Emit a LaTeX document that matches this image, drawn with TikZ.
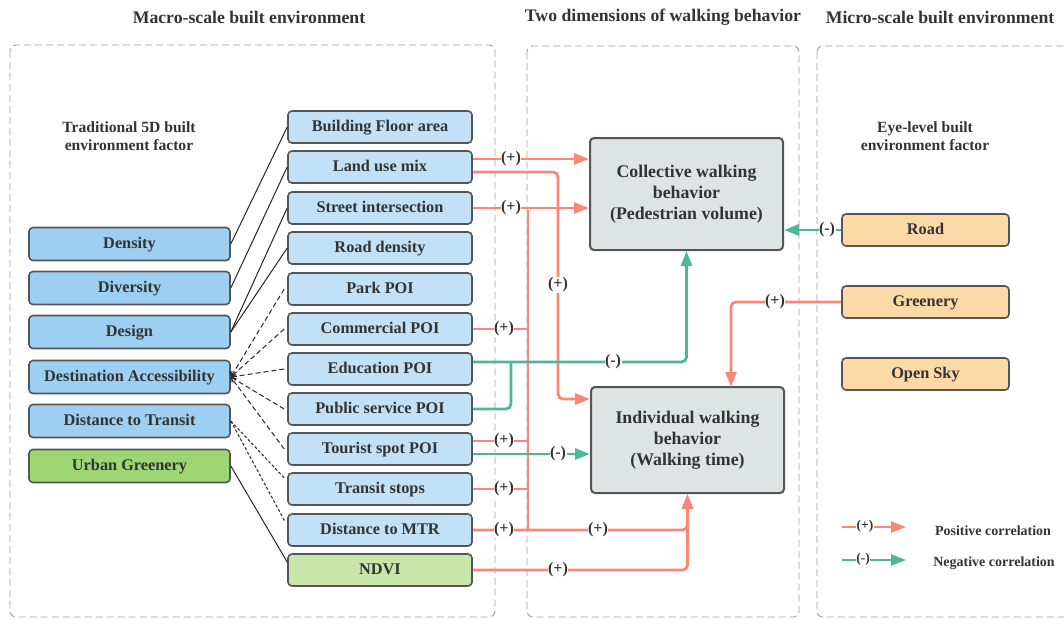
\documentclass[tikz,border=0pt]{standalone}
\usepackage{fontspec}
\setmainfont{Liberation Serif}
\usetikzlibrary{arrows.meta,calc}
\definecolor{txt}{HTML}{333333}
\definecolor{bord}{HTML}{555555}
\definecolor{fivedblue}{HTML}{9CCFF1}
\definecolor{midblue}{HTML}{C2E1F6}
\definecolor{ugreen}{HTML}{9FD674}
\definecolor{ndvigreen}{HTML}{C8E6AA}
\definecolor{orangebox}{HTML}{FCD9A6}
\definecolor{greybox}{HTML}{DEE3E4}
\definecolor{salmon}{HTML}{FA8778}
\definecolor{tealc}{HTML}{4DB69B}
\definecolor{panel}{HTML}{A0A0A0}
\tikzset{
  basebox/.style={draw=bord, line width=1.6pt, rounded corners=4pt, text=txt,
    font=\fontsize{16.3}{19}\selectfont\bfseries, inner sep=0pt, align=center},
  onebox/.style={basebox, text height=11pt, text depth=1.5pt},
  fivedbox/.style={onebox, fill=fivedblue, minimum width=201pt, minimum height=33pt},
  midbox/.style={onebox, fill=midblue, minimum width=184pt, minimum height=32pt},
  orbox/.style={onebox, fill=orangebox, minimum width=167pt, minimum height=32pt},
  behbox/.style={basebox, fill=greybox, line width=2pt, minimum width=193pt,
    font=\fontsize{17.8}{21}\selectfont\bfseries},
  panelbox/.style={draw=panel, line width=0.9pt, dash pattern=on 7pt off 4pt, rounded corners=6pt},
  titletxt/.style={text=txt, font=\fontsize{17.7}{21}\selectfont\bfseries, inner sep=0pt},
  subtxt/.style={text=txt, font=\fontsize{15.6}{18.5}\selectfont\bfseries, align=center, inner sep=0pt},
  lab/.style={fill=white, text=txt, font=\fontsize{16}{17}\selectfont\bfseries, inner sep=0.5pt},
  posline/.style={draw=salmon, line width=2.8pt, rounded corners=5pt},
  negline/.style={draw=tealc, line width=2.8pt, rounded corners=5pt},
  posarr/.style={posline, -{Triangle[length=15pt,width=11pt]}},
  negarr/.style={negline, -{Triangle[length=15pt,width=11pt]}},
  link/.style={draw=black!85, line width=1pt},
  dlink/.style={link, dash pattern=on 5pt off 3pt},
  ddlink/.style={link, dash pattern=on 3pt off 2pt},
  legtxt/.style={text=txt, font=\fontsize{14}{16}\selectfont\bfseries, inner sep=0pt},
}
\begin{document}
\begin{tikzpicture}[x=1pt,y=-1pt]
\useasboundingbox (0,0) rectangle (1064,619);

% panels
\draw[panelbox] (10,45) rectangle (495,617);
\draw[panelbox] (527,46) rectangle (799,617);
\draw[panelbox] (817,46) rectangle (1080,617);

% titles
\node[titletxt] (t1) at (249,17) {Macro-scale built environment};
\node[titletxt] (t2) at (663,17) {Two dimensions of walking behavior};
\node[titletxt] (t3) at (940,17) {Micro-scale built environment};
\node[subtxt] (s1) at (129,136) {Traditional 5D built\\environment factor};
\node[subtxt] (s2) at (925,136) {Eye-level built\\environment factor};

% 5D boxes
\node[fivedbox] (den) at (129.5,244) {Density};
\node[fivedbox] (div) at (129.5,288) {Diversity};
\node[fivedbox] (des) at (129.5,332) {Design};
\node[fivedbox] (dac) at (129.5,377) {Destination Accessibility};
\node[fivedbox] (dtt) at (129.5,421) {Distance to Transit};
\node[fivedbox, fill=ugreen] (ugr) at (129.5,466) {Urban Greenery};

% middle boxes
\node[midbox] (bfa) at (380,127) {Building Floor area};
\node[midbox] (lum) at (380,167) {Land use mix};
\node[midbox] (sti) at (380,208) {Street intersection};
\node[midbox] (rd)  at (380,248) {Road density};
\node[midbox] (park) at (380,289) {Park POI};
\node[midbox] (com) at (380,329) {Commercial POI};
\node[midbox] (edu) at (380,369) {Education POI};
\node[midbox] (ps)  at (380,409) {Public service POI};
\node[midbox] (tour) at (380,449) {Tourist spot POI};
\node[midbox] (ts)  at (380,489) {Transit stops};
\node[midbox] (mtr) at (380,530) {Distance to MTR};
\node[midbox, fill=ndvigreen] (ndvi) at (380,570) {NDVI};

% behaviour boxes
\node[behbox, minimum height=112pt] (coll) at (686.5,194) {Collective walking\\behavior\\(Pedestrian volume)};
\node[behbox, minimum height=106pt] (ind) at (687.5,440) {Individual walking\\behavior\\(Walking time)};

% eye-level boxes
\node[orbox] (road) at (925.5,230) {Road};
\node[orbox] (gre) at (925.5,302) {Greenery};
\node[orbox] (sky) at (925.5,374) {Open Sky};

% left links
\draw[link] (den.east) -- (bfa.west);
\draw[link] (div.east) -- (lum.west);
\draw[link] (des.east) -- (sti.west);
\draw[link] (des.east) -- (rd.west);
\foreach \n in {park,com,edu,ps,tour}{
  \draw[dlink, -{Straight Barb[length=4pt,width=7pt]}] ($(\n.west)+(-3,0)$) -- (dac.east);
}
\draw[ddlink] (dtt.east) -- ($(ts.west)+(-2,-10)$);
\draw[ddlink] (dtt.east) -- ($(mtr.west)+(-2,-8)$);
\draw[link] (ugr.east) -- ($(ndvi.west)+(0,-8)$);

% positive links
\draw[posarr] ($(lum.east)+(0,-8)$) -- ($(coll.west|-lum.east)+(0,-8)$);
\node[lab] at (511,159) {(+)};
\draw[posarr] ($(lum.east)+(0,5)$) -- (558,172) -- (558,399) -- ($(ind.west)+(0,-41)$);
\node[lab] at (558,285) {(+)};
\draw[posarr] (sti.east) -- (coll.west|-sti.east);
\node[lab] at (511,208) {(+)};
\draw[posline] (528,210) -- (528,530);
\draw[posline] (com.east) -- (528,329);
\node[lab] at (504,329) {(+)};
\draw[posline] ($(tour.east)+(0,-8)$) -- (528,441);
\node[lab] at (504,441) {(+)};
\draw[posline] (ts.east) -- (528,489);
\node[lab] at (504,489) {(+)};
\draw[posarr] (mtr.east) -- (687.5,530) -- (ind.south);
\node[lab] at (504,530) {(+)};
\node[lab] at (598,530) {(+)};
\draw[posarr] (ndvi.east) -- (687.5,570) -- (ind.south);
\node[lab] at (558,570) {(+)};
\draw[posarr] (gre.west) -- (731,302) -- (731,387);
\node[lab] at (775,302) {(+)};

% negative links
\draw[negarr] ($(edu.east)+(0,-7)$) -- (686.5,362) -- (coll.south);
\draw[negline] (ps.east) -- (511,409) -- (511,362);
\node[lab] at (613,362) {(-)};
\draw[negarr] ($(tour.east)+(0,5)$) -- (ind.west|-0,454);
\node[lab] at (558,454) {(-)};
\draw[negarr] (road.west) -- (coll.east|-road.west);
\node[lab] at (827,230) {(-)};

% legend
\coordinate (lp1) at (842,527);
\coordinate (lp2) at (906,527);
\coordinate (ln1) at (842,560);
\coordinate (ln2) at (906,560);
\draw[posarr, line width=2pt] (lp1) -- (lp2);
\node[lab, font=\fontsize{13.5}{14}\selectfont\bfseries] at (865,526) {(+)};
\draw[negarr, line width=2pt] (ln1) -- (ln2);
\node[lab, font=\fontsize{13.5}{14}\selectfont\bfseries] at (863,559) {(-)};
\node[legtxt] (lt1) at (993,531) {Positive correlation};
\node[legtxt] (lt2) at (994,563) {Negative correlation};
\end{tikzpicture}
\end{document}
